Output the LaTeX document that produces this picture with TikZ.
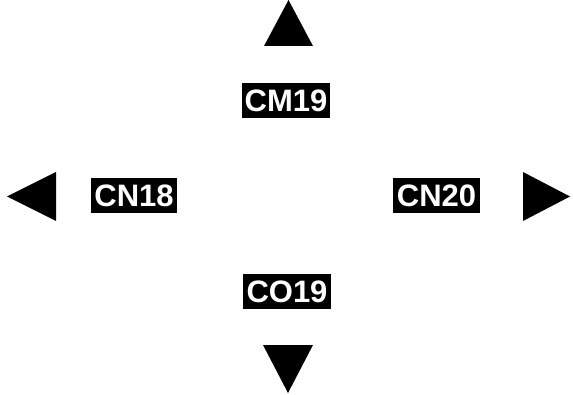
\documentclass[tikz,border=0pt]{standalone}
\usepackage{fontspec}
\setmainfont{Liberation Sans}
\begin{document}
\begin{tikzpicture}[x=1pt,y=-1pt,
  lbl/.style={fill=black,text=white,inner sep=0pt,minimum width=88pt,minimum height=35pt,
    font=\fontsize{31}{36}\selectfont\bfseries},
  tri/.style={fill=black,draw=none}]
\useasboundingbox (0,0) rectangle (573,395);
\node[lbl] (cm19) at (286,101) {CM19};
\node[lbl,minimum width=86pt] (cn18) at (134,196) {CN18};
\node[lbl,minimum width=87pt] (cn20) at (436.5,196) {CN20};
\node[lbl] (co19) at (287,292) {CO19};
\fill[tri] (264,46) -- (313,46) -- (288.5,0) -- cycle;
\fill[tri] (56,172) -- (56,221) -- (7,196.5) -- cycle;
\fill[tri] (523,172) -- (523,221) -- (570,196.5) -- cycle;
\fill[tri] (263,345) -- (313,345) -- (288,393) -- cycle;
\end{tikzpicture}
\end{document}
